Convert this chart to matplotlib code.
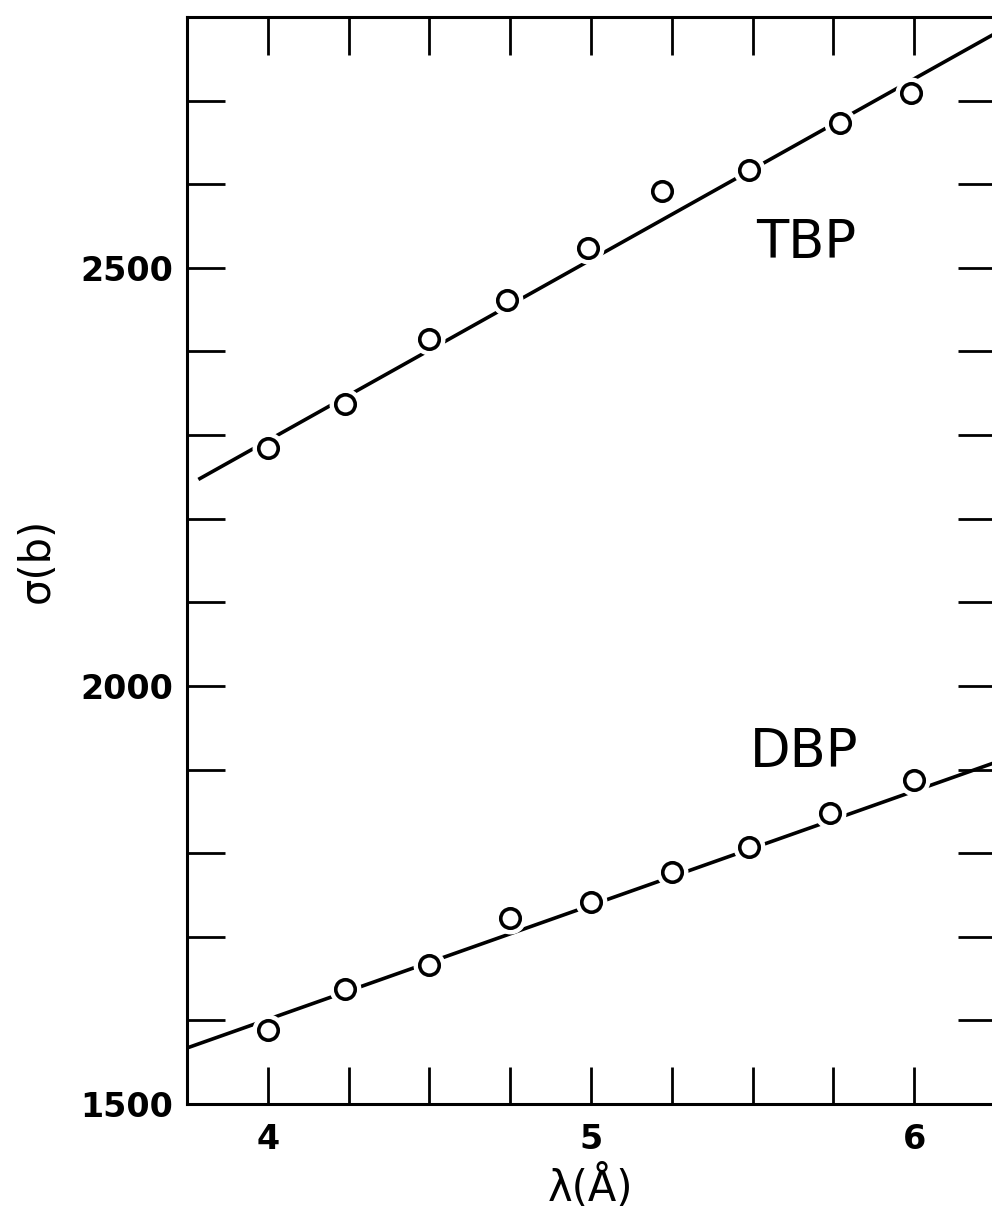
import matplotlib.pyplot as plt

# TBP and DBP cross sections vs wavelength
lam = [4.0, 4.24, 4.50, 4.74, 4.99, 5.22, 5.49, 5.77, 5.99]
tbp = [2284, 2337, 2415, 2461, 2524, 2592, 2617, 2673, 2709]
lam_dbp = [4.0, 4.24, 4.50, 4.75, 5.0, 5.25, 5.49, 5.74, 6.0]
dbp = [1588, 1638, 1666, 1722, 1741, 1778, 1807, 1848, 1887]

# fitted lines (end points)
tbp_fit_x = [3.79, 6.24]
tbp_fit_y = [2248, 2778]
dbp_fit_x = [3.75, 6.24]
dbp_fit_y = [1567, 1907]

x_ticks = [4.0, 4.25, 4.5, 4.75, 5.0, 5.25, 5.5, 5.75, 6.0]
x_labels = ['4', '', '', '', '5', '', '', '', '6']
y_ticks = list(range(1500, 2800, 100))
y_labels = ['1500', '', '', '', '', '2000', '', '', '', '', '2500', '', '']

fig = plt.figure(figsize=(9.92, 12.14), dpi=100)
ax = fig.add_axes([0.1885, 0.0906, 0.8145, 0.8954])

ax.plot(tbp_fit_x, tbp_fit_y, color='black', lw=2.6, zorder=1)
ax.plot(dbp_fit_x, dbp_fit_y, color='black', lw=2.6, zorder=1)
# white halo so the line breaks around each circle
ax.plot(lam, tbp, 'o', ms=22, color='white', zorder=2)
ax.plot(lam_dbp, dbp, 'o', ms=22, color='white', zorder=2)
ax.plot(lam, tbp, 'o', ms=14, mfc='white', mec='black', mew=2.6, zorder=3)
ax.plot(lam_dbp, dbp, 'o', ms=14, mfc='white', mec='black', mew=2.6, zorder=3)

ax.text(5.665, 2530, 'TBP', fontsize=38, ha='center', va='center')
ax.text(5.66, 1921, 'DBP', fontsize=38, ha='center', va='center')

ax.set_xlim(3.75, 6.25)
ax.set_ylim(1500, 2800)
ax.set_xticks(x_ticks)
ax.set_xticklabels(x_labels, fontsize=24, fontweight='bold')
ax.set_yticks(y_ticks)
ax.set_yticklabels(y_labels, fontsize=24, fontweight='bold')
ax.tick_params(direction='in', length=27, width=2, top=True, right=True)
ax.tick_params(axis='x', pad=14)
ax.tick_params(axis='y', pad=10)
for s in ax.spines.values():
    s.set_linewidth(2.2)

ax.set_xlabel('λ(Å)', fontsize=30, labelpad=6)
ax.set_ylabel('σ(b)', fontsize=30, labelpad=16)

plt.savefig('out.png', dpi=100)
